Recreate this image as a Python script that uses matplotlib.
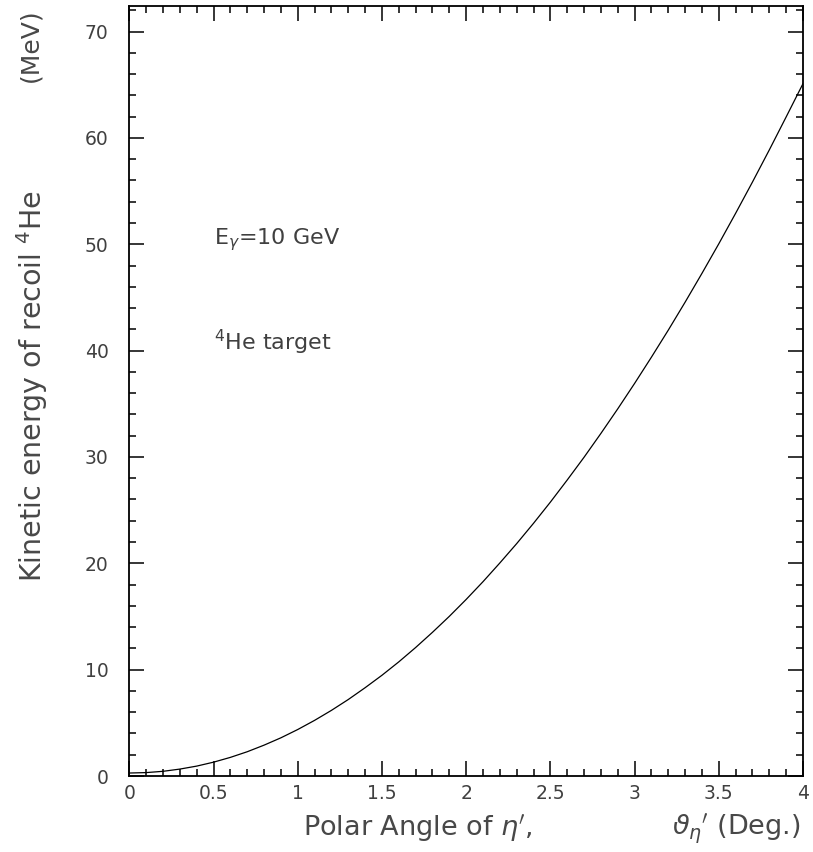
import matplotlib
matplotlib.use('Agg')
import matplotlib.pyplot as plt
from matplotlib.ticker import MultipleLocator, FixedLocator, FixedFormatter

plt.rcParams['font.family'] = ['DejaVu Sans']

# polar angle of eta' (deg) and recoil 4He kinetic energy (MeV)
theta = [0.0, 0.1, 0.2, 0.3, 0.4, 0.5, 0.6, 0.7, 0.8, 0.9, 1.0,
         1.1, 1.2, 1.3, 1.4, 1.5, 1.6, 1.7, 1.8, 1.9, 2.0,
         2.1, 2.2, 2.3, 2.4, 2.5, 2.6, 2.7, 2.8, 2.9, 3.0,
         3.1, 3.2, 3.3, 3.4, 3.5, 3.6, 3.7, 3.8, 3.9, 4.0]
t_kin = [0.28, 0.32, 0.44, 0.65, 0.93, 1.30, 1.75, 2.28, 2.90, 3.59, 4.37,
         5.23, 6.17, 7.19, 8.30, 9.47, 10.73, 12.08, 13.51, 15.01, 16.60,
         18.27, 20.03, 21.85, 23.76, 25.75, 27.83, 29.97, 32.21, 34.52, 36.91,
         39.38, 41.92, 44.55, 47.26, 50.04, 52.91, 55.85, 58.87, 61.97, 65.10]

xtick_vals = [0, 0.5, 1, 1.5, 2, 2.5, 3, 3.5, 4]
xtick_text = ['0', '0.5', '1', '1.5', '2', '2.5', '3', '3.5', '4']
ytick_vals = [0, 10, 20, 30, 40, 50, 60, 70]

W, H = 813, 852
fig = plt.figure(figsize=(W / 100, H / 100), dpi=100)
ax = fig.add_axes([129.3 / W, 1 - 776 / H, (803 - 129.3) / W, (776 - 6) / H])

ax.plot(theta, t_kin, color='black', lw=0.9)

ax.set_xlim(0, 4)
ax.set_ylim(0, 72.4)

ax.xaxis.set_major_locator(FixedLocator(xtick_vals))
ax.xaxis.set_major_formatter(FixedFormatter(xtick_text))
ax.xaxis.set_minor_locator(MultipleLocator(0.1))
ax.yaxis.set_major_locator(FixedLocator(ytick_vals))
ax.yaxis.set_minor_locator(MultipleLocator(2))

for side in ax.spines.values():
    side.set_linewidth(1.3)
ax.tick_params(which='both', direction='in', top=True, right=True, width=1.1, colors='black')
ax.tick_params(which='major', length=10.5)
ax.tick_params(which='minor', length=5.2)
ax.tick_params(axis='x', which='major', pad=6, labelsize=13.5, labelcolor='#404040')
ax.tick_params(axis='y', which='major', pad=15, labelsize=13.5, labelcolor='#404040')

txt = dict(color='#404040', fontsize=16)
ax.text(0.5, 50, r'E$_\gamma$=10 GeV', va='baseline', **txt)
ax.text(0.5, 40, r'$^4$He target', va='baseline', **txt)

lab = dict(color='#484848', fontsize=19.5)
fig.text(303 / W, 1 - 835 / H, r"Polar Angle of $\eta'$,", ha='left', va='baseline', **lab)
fig.text(801 / W, 1 - 835 / H, r"$\vartheta_{\eta}{}'$ (Deg.)", ha='right', va='baseline', **lab)
fig.text(32 / W, 1 - 386 / H, r'Kinetic energy of recoil $^4$He', rotation=90,
         ha='center', va='center', color='#484848', fontsize=20.5)
fig.text(30 / W, 1 - 8 / H, '(MeV)', rotation=90, ha='center', va='top',
         color='#484848', fontsize=18)

fig.savefig('out.png', dpi=100)
